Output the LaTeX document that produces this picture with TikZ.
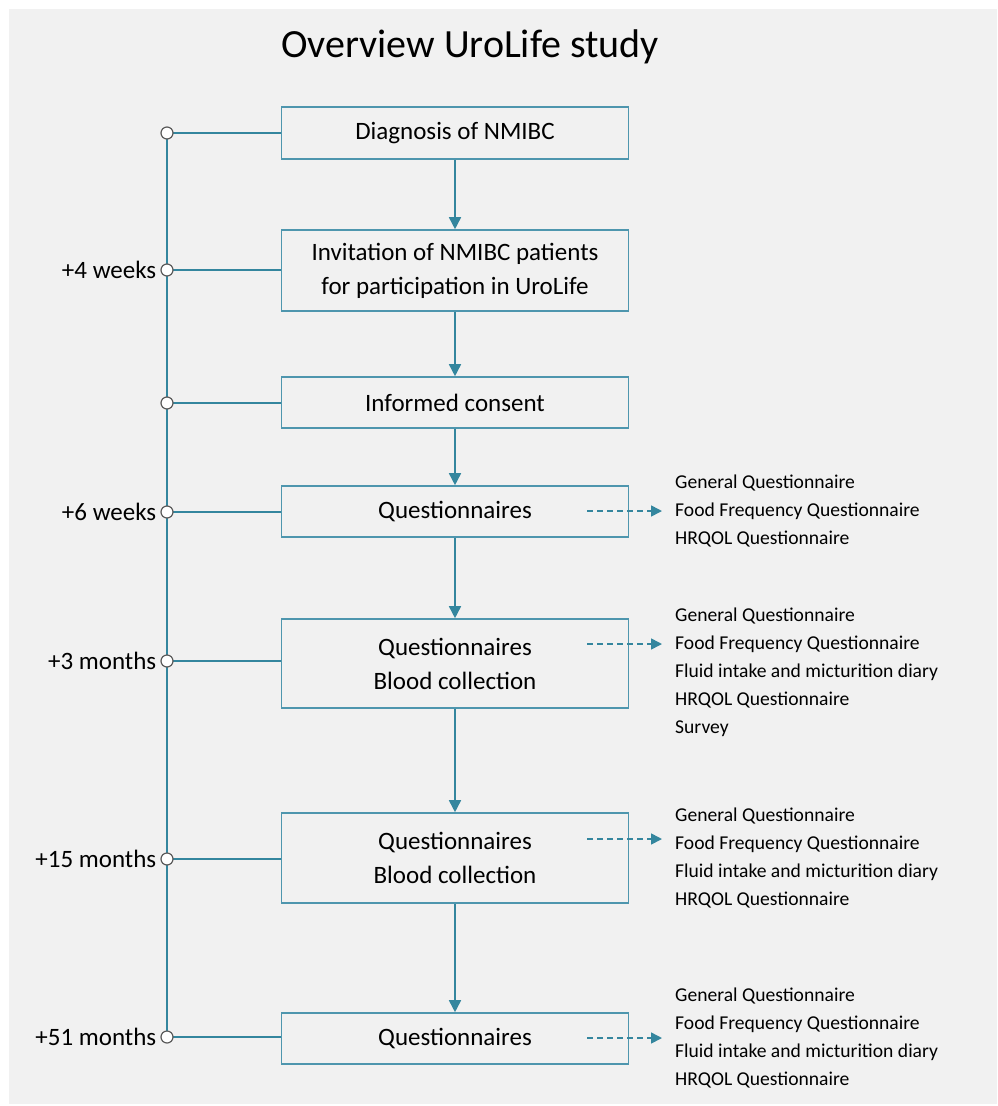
\documentclass[tikz,border=0pt]{standalone}
\usepackage{fontspec}
\setmainfont{Carlito}
\usepackage{tikz}
\usetikzlibrary{arrows.meta, positioning, backgrounds}
\definecolor{uroline}{RGB}{52,134,158}
\definecolor{urobox}{RGB}{78,150,174}
\definecolor{dotgray}{RGB}{90,90,90}
\definecolor{pagegray}{RGB}{241,241,241}

\begin{document}
\begin{tikzpicture}[
    x=1pt, y=-1pt,
    stagebox/.style={draw=urobox, line width=1.6pt, rectangle, minimum width=347pt, align=center, inner sep=0pt, font=\fontsize{25}{34}\selectfont},
    tick/.style={draw=dotgray, circle, fill=white, minimum size=12pt, inner sep=0pt, line width=1.2pt},
    when/.style={font=\fontsize{25}{30}\selectfont, inner sep=0pt},
    items/.style={align=left, anchor=west, inner sep=0pt, font=\fontsize{19.6}{28}\selectfont},
    flow/.style={-{Triangle[length=12pt, width=12pt]}, draw=uroline, line width=1.6pt},
    dasharrow/.style={-{Triangle[length=11pt, width=11pt]}, draw=uroline, line width=1.6pt, dash pattern=on 6pt off 4pt, shorten >=13pt},
    link/.style={draw=uroline, line width=1.6pt}
]
\useasboundingbox (0,0) rectangle (997,1106);

% Title
\node[font=\fontsize{40}{48}\selectfont] (title) at (470,47) {Overview UroLife study};

% Stages
\node[stagebox, minimum height=52pt] (diag) at (455,133) {Diagnosis of NMIBC};
\node[stagebox, minimum height=81pt] (invite) at (455,270.5) {Invitation of NMIBC patients\\for participation in UroLife};
\node[stagebox, minimum height=51pt] (consent) at (455,402.5) {Informed consent};
\node[stagebox, minimum height=51pt] (quest1) at (455,511.5) {Questionnaires};
\node[stagebox, minimum height=89pt] (quest2) at (455,663.5) {Questionnaires\\Blood collection};
\node[stagebox, minimum height=90pt] (quest3) at (455,858) {Questionnaires\\Blood collection};
\node[stagebox, minimum height=51pt] (quest4) at (455,1038.5) {Questionnaires};

% Timeline points
\node[tick] (t1) at (167,133) {};
\node[tick] (t2) at (167,270) {};
\node[tick] (t3) at (167,403) {};
\node[tick] (t4) at (167,512) {};
\node[tick] (t5) at (167,661) {};
\node[tick] (t6) at (167,859) {};
\node[tick] (t7) at (167,1037) {};

\node[when, left=4pt of t2] {+4 weeks};
\node[when, left=4pt of t4] {+6 weeks};
\node[when, left=4pt of t5] {+3 months};
\node[when, left=4pt of t6] {+15 months};
\node[when, left=4pt of t7] {+51 months};

% Lists
\node[items] (list1) at (675,511) {General Questionnaire\\Food Frequency Questionnaire\\HRQOL Questionnaire};
\node[items] (list2) at (675,672) {General Questionnaire\\Food Frequency Questionnaire\\Fluid intake and micturition diary\\HRQOL Questionnaire\\Survey};
\node[items] (list3) at (675,858) {General Questionnaire\\Food Frequency Questionnaire\\Fluid intake and micturition diary\\HRQOL Questionnaire};
\node[items] (list4) at (675,1038) {General Questionnaire\\Food Frequency Questionnaire\\Fluid intake and micturition diary\\HRQOL Questionnaire};

\coordinate (d1) at (587,511);
\coordinate (d2) at (587,644);
\coordinate (d3) at (587,839);
\coordinate (d4) at (587,1038);

% Connections
\draw[flow] (diag) -- (invite);
\draw[flow] (invite) -- (consent);
\draw[flow] (consent) -- (quest1);
\draw[flow] (quest1) -- (quest2);
\draw[flow] (quest2) -- (quest3);
\draw[flow] (quest3) -- (quest4);

\draw[dasharrow] (d1) -- (d1 -| list1.west);
\draw[dasharrow] (d2) -- (d2 -| list2.west);
\draw[dasharrow] (d3) -- (d3 -| list3.west);
\draw[dasharrow] (d4) -- (d4 -| list4.west);

% Timeline
\begin{pgfonlayer}{background}
\fill[pagegray] (9,9) rectangle (997,1104);
\draw[link] (t1.center) -- (t7.center);
\draw[link] (t1.center) -- (t1 -| diag.west);
\draw[link] (t2.center) -- (t2 -| invite.west);
\draw[link] (t3.center) -- (t3 -| consent.west);
\draw[link] (t4.center) -- (t4 -| quest1.west);
\draw[link] (t5.center) -- (t5 -| quest2.west);
\draw[link] (t6.center) -- (t6 -| quest3.west);
\draw[link] (t7.center) -- (t7 -| quest4.west);
\end{pgfonlayer}

\end{tikzpicture}
\end{document}
